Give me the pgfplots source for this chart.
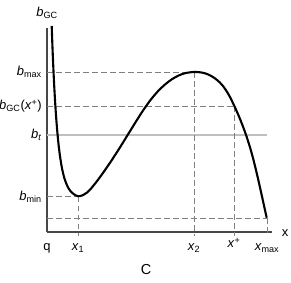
\documentclass[border=0pt]{standalone}
\usepackage{pgfplots}
\pgfplotsset{compat=1.18}
\usepackage{fontspec}
\setmainfont{Liberation Sans}
\begin{document}
\begin{tikzpicture}
\useasboundingbox (-47bp,-51bp) rectangle (244bp,232bp);
\begin{axis}[
  x=1bp, y=1bp,
  xmin=0, xmax=225, ymin=0, ymax=204,
  axis lines*=left,
  axis line style={draw=black!72, line width=1.2bp},
  clip=false,
  font=\fontsize{13}{15}\selectfont,
  major tick length=0pt,
  xtick={0,31,147,187,220},
  xticklabels={q,\textit{x}\textsubscript{1},\textit{x}\textsubscript{2},\raisebox{3bp}{\textit{x}\textsuperscript{+}},\textit{x}\textsubscript{max}},
  xticklabel style={anchor=base, yshift=-18.5bp},
  ytick={35.3,97,126,160},
  yticklabels={\textit{b}\textsubscript{min},\textit{b}\textsubscript{\textit{t}},\textit{b}\textsubscript{GC}(\textit{x}\textsuperscript{+}),\textit{b}\textsubscript{max}},
  yticklabel style={anchor=east, xshift=-1.7bp},
  xlabel={x},
  xlabel style={at={(axis cs:238,-1)}, anchor=center},
  ylabel={\textit{b}\textsubscript{GC}},
  ylabel style={at={(axis cs:0,219)}, anchor=center, rotate=-90},
]
\pgfplotsset{dl/.style={draw=black!50, line width=0.8bp, dash pattern=on 5.5bp off 3.5bp}}
\addplot[draw=black!25, line width=1.3bp] coordinates {(0,97) (220,97)};
\addplot[dl] coordinates {(0,160) (147,160)};
\addplot[dl] coordinates {(147,160) (147,-4)};
\addplot[dl] coordinates {(0,126) (187,126)};
\addplot[dl] coordinates {(187,126) (187,-4)};
\addplot[dl] coordinates {(0,35.3) (31,35.3)};
\addplot[dl] coordinates {(31,35.3) (31,-4)};
\addplot[dl] coordinates {(0,14) (220,14)};
\addplot[dl] coordinates {(220,14) (220,-4)};
\addplot[black, line width=2.1bp, smooth, tension=0.5] coordinates {
(4.7,206) (5.3,189.3) (6,171.9) (6.7,156.4) (7.5,140.8) (8.3,127.2) (9.2,114) (10.3,100.3) (11.5,88) (13,75.8) (15,63.7) (17.5,53.4) (20.5,45.6) (23.5,40.9) (27,37.7) (31,35.8)
(35,36.5) (39.7,39.2) (43,42.3) (46.3,46.2) (51,52.2) (56.3,59.5) (61.3,66.7) (66.3,74.2) (71.3,81.95) (76.3,89.95) (81.3,98.05) (86.3,106.15) (91.3,114.15) (96.3,121.9)
(104,132.6) (111,140.8) (118,147.5) (125,152.8) (132,156.7) (139,159.05) (147,160)
(153,159.7) (158,158.7) (163,156.7) (168,153.6) (172.5,149.8) (176.3,145.6) (180,140.2) (183,134.95) (187.2,126.3) (190,120.1) (193,113.05) (196.5,104.1) (199.5,95.7) (203,84.7) (205.5,75.8) (208,66.05) (210.5,55.55) (213,44.55) (215,35.55) (217.5,24.2) (219.7,14.2)};
\node[font=\fontsize{14.5}{16}\selectfont] at (axis cs:99,-38) {C};
\end{axis}
\end{tikzpicture}
\end{document}
